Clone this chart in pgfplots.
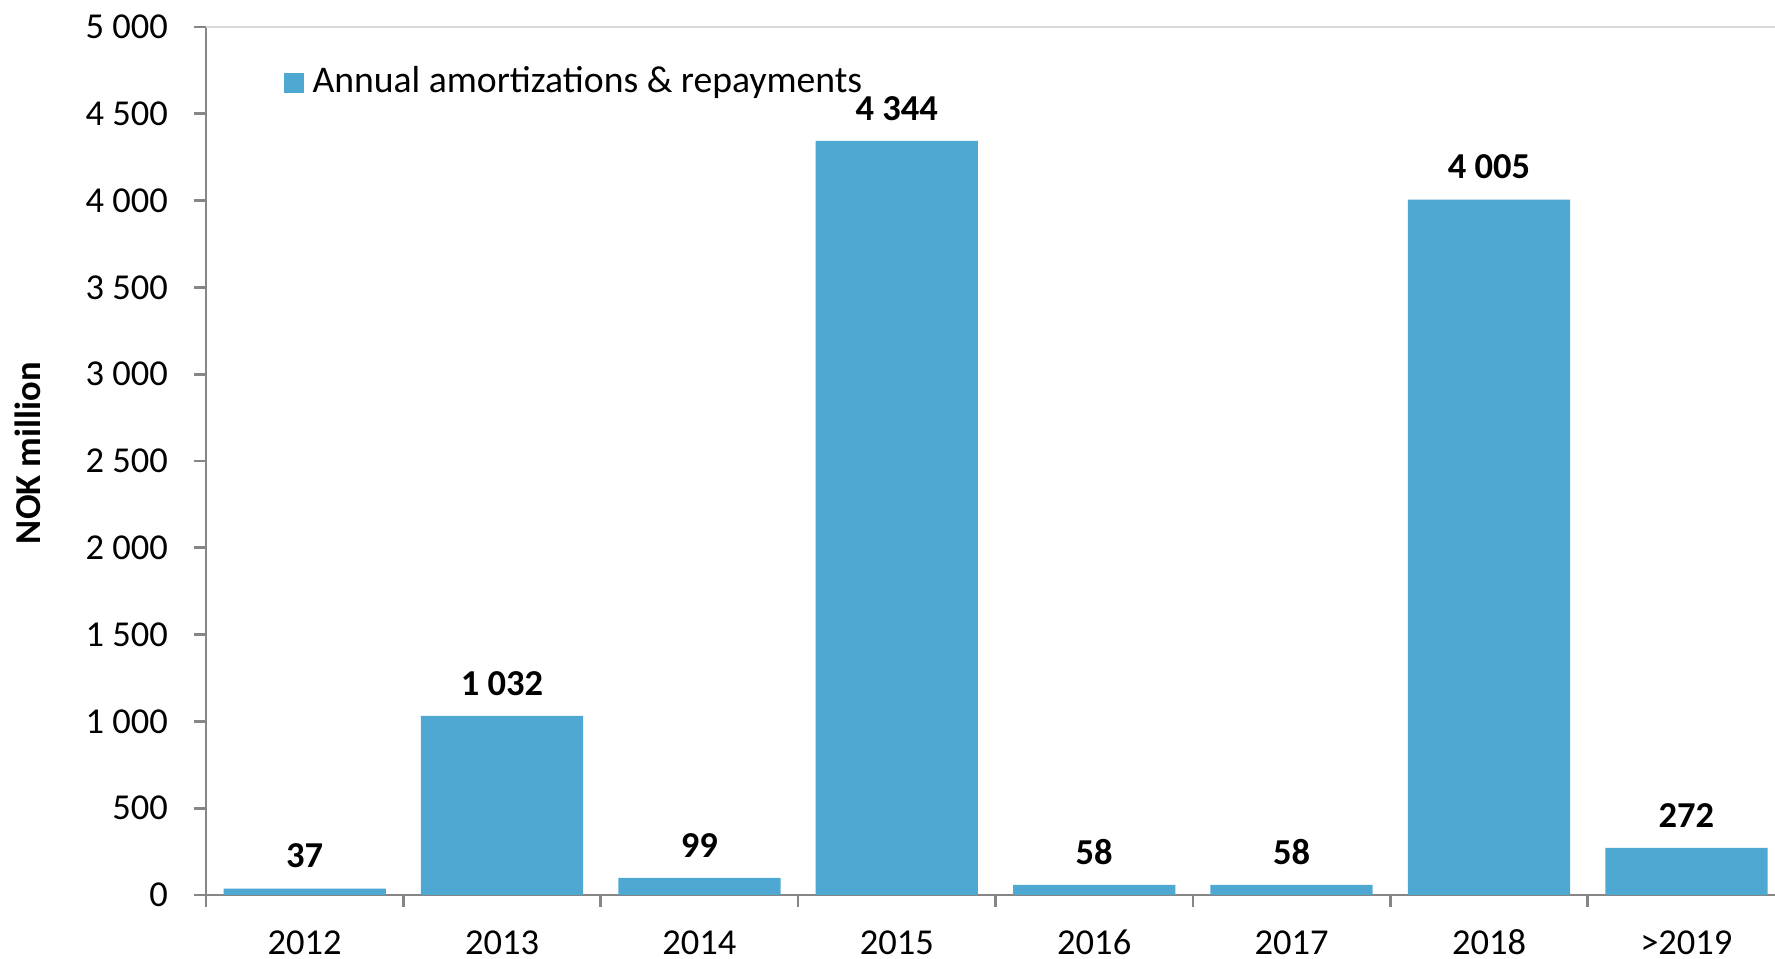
\documentclass[border=0pt,11pt]{standalone}
\usepackage{fontspec}
\setmainfont{Carlito}
\usepackage{pgfplots}
\pgfplotsset{compat=1.18}
\definecolor{barblue}{RGB}{79,168,210}
\definecolor{axgray}{RGB}{134,134,134}
\definecolor{topgray}{RGB}{217,217,217}
\begin{document}
\begin{tikzpicture}
\begin{axis}[
    name=ax, at={(0,0)}, anchor=south west,
    width=470.7pt, height=260.4pt, scale only axis,
    ybar, bar width=0.822,
    xmin=-0.5, xmax=7.449, ymin=0, ymax=5000,
    axis lines=left,
    axis line style={-, draw=axgray, line width=0.8pt},
    tick align=outside,
    tick style={draw=axgray, line width=0.8pt},
    major tick length=3.6pt,
    xtick={-0.5,0.5,...,6.5}, xticklabels={},
    extra x ticks={0,1,2,3,4,5,6,7},
    extra x tick labels={2012,2013,2014,2015,2016,2017,2018,>2019},
    extra x tick style={major tick length=0pt,
      tick label style={yshift=-10.4pt, text height=0.65em, text depth=0pt, inner ysep=0pt}},
    ytick={0,500,...,5000},
    yticklabels={0,500,1 000,1 500,2 000,2 500,3 000,3 500,4 000,4 500,5 000},
    yticklabel style={xshift=-4pt},
    ylabel={\bfseries NOK million},
    ylabel style={at={(axis description cs:-0.1134,0.509)}, anchor=center},
    nodes near coords,
    point meta=explicit symbolic,
    every node near coord/.append style={font=\bfseries, yshift=2.3pt},
    legend image code/.code={\fill[barblue] (0pt,-3pt) rectangle (6pt,3pt);},
    legend style={draw=none, fill=none, at={(axis description cs:0.049,0.936)},
      anchor=west, inner sep=0pt, column sep=2.7pt, nodes={inner sep=0pt},
      font=\fontsize{11.3}{13}\selectfont},
    legend cell align=left,
]
\addplot[fill=barblue, draw=none] coordinates {
  (0,37) [37]
  (1,1032) [1 032]
  (2,99) [99]
  (3,4344) [4 344]
  (4,58) [58]
  (5,58) [58]
  (6,4005) [4 005]
  (7,272) [272]
};
\addlegendentry{Annual amortizations \& repayments}
\draw[topgray, line width=0.8pt] (axis description cs:0,1) -- (axis description cs:1,1);
\end{axis}
\pgfresetboundingbox
\path[use as bounding box] ([shift={(-61.8pt,-19.2pt)}]ax.south west) rectangle ([shift={(0pt,8.1pt)}]ax.north east);
\end{tikzpicture}
\end{document}
